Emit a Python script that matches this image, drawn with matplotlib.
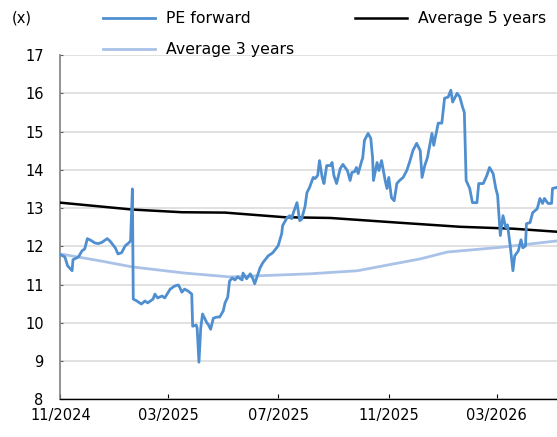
import numpy as np
import matplotlib
matplotlib.use("Agg")
import matplotlib.pyplot as plt
import matplotlib.dates as mdates

# ---- data (days since 2024-11-01, values) ----
start_date = "2024-11-01"

pe_days = [0, 5, 8, 13, 14, 20, 24, 27, 30, 35, 38, 42, 46, 52, 55, 61, 64, 68, 72, 76,
           78, 80, 81, 85, 90, 94, 97, 103, 105, 108, 113, 116, 122, 127, 131, 133, 135, 138, 142, 146,
           147, 151, 152, 154, 156, 158, 163, 164, 167, 170, 174, 177, 181, 183, 186, 188, 191, 194, 197, 202,
           203, 207, 211, 214, 216, 219, 222, 225, 231, 236, 242, 246, 247, 252, 255, 257, 259, 263, 266, 268,
           272, 274, 277, 281, 283, 286, 288, 291, 293, 296, 300, 302, 304, 307, 311, 314, 319, 322, 324, 327,
           329, 331, 335, 336, 338, 342, 345, 347, 348, 352, 354, 357, 361, 363, 365, 368, 371, 374, 377, 381,
           385, 388, 392, 396, 400, 402, 405, 408, 413, 415, 420, 424, 427, 431, 434, 436, 441, 444, 447, 449,
           451, 455, 458, 463, 465, 470, 474, 477, 481, 484, 486, 489, 492, 495, 497, 500, 503, 505, 509, 512,
           514, 517, 518, 522, 525, 530, 533, 536, 538, 542, 546, 547, 552]
pe_values = [11.78, 11.72, 11.49, 11.36, 11.65, 11.72, 11.88, 11.93, 12.20, 12.14, 12.09, 12.07, 12.10, 12.20, 12.14, 11.96, 11.80, 11.83, 12.01, 12.09,
             12.14, 13.50, 10.62, 10.57, 10.49, 10.57, 10.52, 10.62, 10.75, 10.65, 10.70, 10.65, 10.88, 10.96, 10.99, 10.91, 10.80, 10.88, 10.83, 10.75,
             9.91, 9.94, 9.86, 8.97, 9.86, 10.23, 9.99, 9.97, 9.83, 10.12, 10.15, 10.15, 10.31, 10.52, 10.67, 11.09, 11.17, 11.12, 11.20, 11.12,
             11.30, 11.15, 11.28, 11.15, 11.02, 11.23, 11.44, 11.57, 11.75, 11.83, 12.01, 12.33, 12.54, 12.75, 12.80, 12.72, 12.88, 13.14, 12.67, 12.70,
             13.05, 13.40, 13.54, 13.80, 13.77, 13.85, 14.24, 13.80, 13.64, 14.11, 14.11, 14.19, 13.85, 13.64, 14.03, 14.14, 13.98, 13.72, 13.93, 13.95,
             14.06, 13.90, 14.24, 14.30, 14.77, 14.95, 14.82, 14.32, 13.72, 14.19, 13.98, 14.24, 13.72, 13.51, 13.80, 13.27, 13.19, 13.64, 13.72, 13.80,
             13.98, 14.19, 14.51, 14.69, 14.50, 13.80, 14.11, 14.32, 14.95, 14.64, 15.22, 15.22, 15.87, 15.90, 16.08, 15.77, 16.00, 15.90, 15.64, 15.50,
             13.72, 13.51, 13.14, 13.14, 13.64, 13.64, 13.85, 14.06, 13.90, 13.51, 13.33, 12.28, 12.80, 12.49, 12.56, 12.01, 11.36, 11.75, 11.88, 12.17,
             11.96, 12.01, 12.59, 12.62, 12.88, 12.98, 13.25, 13.12, 13.25, 13.12, 13.12, 13.51, 13.54]

avg5_days = [0, 80, 135, 183, 249, 300, 374, 444, 503, 552]
avg5_values = [13.14, 12.96, 12.89, 12.88, 12.76, 12.74, 12.62, 12.51, 12.46, 12.38]

avg3_days = [0, 44, 80, 138, 188, 244, 277, 330, 400, 430, 488, 552]
avg3_values = [11.80, 11.62, 11.46, 11.30, 11.20, 11.25, 11.28, 11.36, 11.67, 11.85, 11.97, 12.14]

tick_dates = ["2024-11-01", "2025-03-01", "2025-07-01", "2025-11-01", "2026-03-01"]
y_ticks = [8, 9, 10, 11, 12, 13, 14, 15, 16, 17]

series_labels = ["PE forward", "Average 5 years", "Average 3 years"]

# ---- build ----
base = np.datetime64(start_date)
to_dates = lambda d: base + np.array(d).astype("timedelta64[D]")

plt.rcParams['font.family'] = ['DejaVu Sans']

fig = plt.figure(figsize=(5.57, 4.37), dpi=100)
ax = fig.add_axes([60.4 / 557, (437 - 399.3) / 437, 1 - 60.4 / 557, (399.3 - 55) / 437])

c_pe = "#4f8fd0"
c_a5 = "#000000"
c_a3 = "#aac2e8"

l_a3, = ax.plot(to_dates(avg3_days), avg3_values, color=c_a3, lw=2.0, label=series_labels[2], zorder=3)
l_a5, = ax.plot(to_dates(avg5_days), avg5_values, color=c_a5, lw=1.8, label=series_labels[1], zorder=4)
l_pe, = ax.plot(to_dates(pe_days), pe_values, color=c_pe, lw=2.0, label=series_labels[0], zorder=5)

ax.set_ylim(8, 17)
ax.set_xlim(to_dates([0])[0], to_dates([552])[0])
ax.set_yticks(y_ticks)
ax.set_xticks([np.datetime64(d) for d in tick_dates])
ax.xaxis.set_major_formatter(mdates.DateFormatter("%m/%Y"))

ax.grid(axis='y', color="#d9d9d9", lw=1.1, zorder=0)
ax.set_axisbelow(True)

for s in ["top", "right"]:
    ax.spines[s].set_visible(False)
ax.spines["left"].set_color("#808080")
ax.spines["left"].set_linewidth(1.2)
ax.spines["bottom"].set_color("#000000")
ax.spines["bottom"].set_linewidth(1.0)

ax.tick_params(axis='y', direction='in', length=2.5, color="#606060", labelsize=10.5, pad=12)
ax.tick_params(axis='x', direction='in', length=3.8, color="#000000", labelsize=10.5, pad=6)

fig.text(12 / 557, 1 - 18 / 437, "(x)", fontsize=10.5, va='center', ha='left')

fig.legend(handles=[l_pe, l_a3, l_a5], labels=[series_labels[0], series_labels[2], series_labels[1]],
           ncol=2, loc='upper left', bbox_to_anchor=(103 / 557, 1 - 11 / 437),
           frameon=False, fontsize=11.3, borderpad=0, borderaxespad=0,
           handlelength=3.3, handletextpad=0.7, columnspacing=3.9, labelspacing=1.05)

fig.savefig("out.png", dpi=100)
